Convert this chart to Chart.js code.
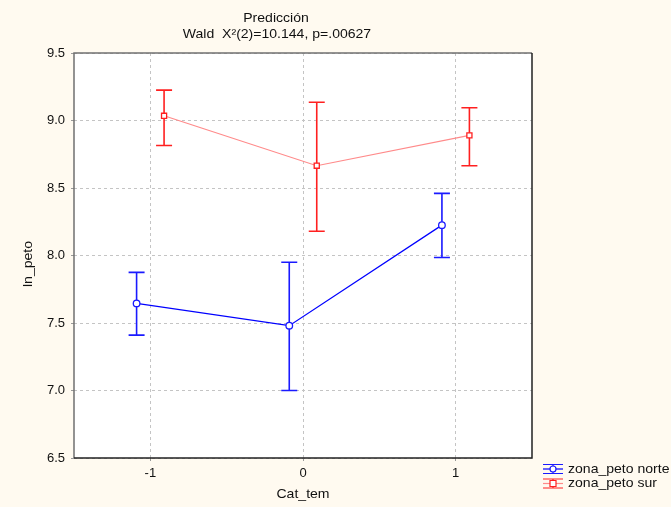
<!DOCTYPE html>
<html>
<head>
<meta charset="utf-8">
<script src="https://cdn.jsdelivr.net/npm/chart.js@4/dist/chart.umd.min.js"></script>
<style>
  html, body { margin: 0; padding: 0; background: #fffaf0; }
  #wrap { width: 671px; height: 507px; }
</style>
</head>
<body>
<div id="wrap"><canvas id="c" width="671" height="507"></canvas></div>
<script>
// Cat_tem levels and the predicted ln_peto by zone with confidence limits
const categories = [-1, 0, 1];
const offsets = { norte: -0.09, sur: 0.09 };

const norteMean  = [7.645, 7.48, 8.225];
const norteLower = [7.41, 7.00, 7.985];
const norteUpper = [7.875, 7.95, 8.46];

const surMean  = [9.035, 8.665, 8.89];
const surLower = [8.815, 8.18, 8.665];
const surUpper = [9.225, 9.135, 9.095];

const yTicks = [6.5, 7.0, 7.5, 8.0, 8.5, 9.0, 9.5];
const seriesNames = ['zona_peto norte', 'zona_peto sur'];
const titleLines = ['Predicción', 'Wald  X\u00B2(2)=10.144, p=.00627'];
const xTitle = 'Cat_tem';
const yTitle = 'ln_peto';

const FONT = '"Liberation Sans", Arial, sans-serif';
const TEXT = '#111111';

function pts(mean, off) {
  return categories.map((c, i) => ({ x: c + off, y: mean[i] }));
}

// slightly widened text, like the rest of the lettering
function wideText(ctx, str, x, y, align, rot) {
  ctx.save();
  ctx.translate(x, y);
  if (rot) ctx.rotate(rot);
  ctx.scale(1.08, 1);
  ctx.textAlign = align;
  ctx.textBaseline = 'middle';
  ctx.fillText(str, 0, 0);
  ctx.restore();
}

const series = [
  { name: seriesNames[0], mean: norteMean, lo: norteLower, hi: norteUpper, off: offsets.norte,
    line: '#0000ff', bar: '#1a1aff', style: 'circle' },
  { name: seriesNames[1], mean: surMean, lo: surLower, hi: surUpper, off: offsets.sur,
    line: '#ff8a8a', bar: '#ff2020', style: 'rect' }
];

const framePlugin = {
  id: 'frame',
  beforeDraw(chart) {
    const { ctx, chartArea: a } = chart;
    ctx.save();
    ctx.fillStyle = '#fffaf0';
    ctx.fillRect(0, 0, chart.width, chart.height);
    ctx.fillStyle = '#ffffff';
    ctx.fillRect(a.left, a.top, a.right - a.left, a.bottom - a.top);
    ctx.restore();
  },
  beforeDatasetsDraw(chart) {
    // confidence-limit whiskers
    const { ctx, scales } = chart;
    ctx.save();
    series.forEach(s => {
      ctx.strokeStyle = s.bar;
      ctx.lineWidth = 1.6;
      categories.forEach((c, i) => {
        const x = scales.x.getPixelForValue(c + s.off);
        const y1 = scales.y.getPixelForValue(s.hi[i]);
        const y2 = scales.y.getPixelForValue(s.lo[i]);
        ctx.beginPath();
        ctx.moveTo(x, y1); ctx.lineTo(x, y2);
        ctx.moveTo(x - 8, y1); ctx.lineTo(x + 8, y1);
        ctx.moveTo(x - 8, y2); ctx.lineTo(x + 8, y2);
        ctx.stroke();
      });
    });
    ctx.restore();
  },
  afterDraw(chart) {
    const { ctx, chartArea: a } = chart;
    ctx.save();
    // plot frame
    ctx.lineWidth = 1.5;
    ctx.strokeStyle = '#707070';
    ctx.beginPath();
    ctx.moveTo(a.left, a.bottom); ctx.lineTo(a.left, a.top); ctx.lineTo(a.right, a.top);
    ctx.stroke();
    ctx.strokeStyle = '#222222';
    ctx.beginPath();
    ctx.moveTo(a.right, a.top); ctx.lineTo(a.right, a.bottom); ctx.lineTo(a.left, a.bottom);
    ctx.stroke();

    // titles
    ctx.fillStyle = TEXT;
    ctx.font = '13px ' + FONT;
    wideText(ctx, titleLines[0], 276, 18, 'center');
    wideText(ctx, titleLines[1], 277, 34, 'center');

    // axis titles
    wideText(ctx, xTitle, 303, 494, 'center');
    wideText(ctx, yTitle, 28, 264, 'center', -Math.PI / 2);

    // legend
    series.forEach((s, k) => {
      const cy = 469 + k * 14.5;
      const x0 = 543, x1 = 563, xm = 553;
      ctx.strokeStyle = s.bar;
      ctx.lineWidth = 1.2;
      ctx.beginPath();
      ctx.moveTo(x0, cy - 4.5); ctx.lineTo(x1, cy - 4.5);
      ctx.moveTo(x0, cy + 4.5); ctx.lineTo(x1, cy + 4.5);
      ctx.moveTo(xm, cy - 4.5); ctx.lineTo(xm, cy + 4.5);
      ctx.stroke();
      ctx.strokeStyle = s.line;
      ctx.beginPath();
      ctx.moveTo(x0, cy); ctx.lineTo(x1, cy);
      ctx.stroke();
      ctx.fillStyle = '#ffffff';
      ctx.strokeStyle = s.bar;
      ctx.lineWidth = 1.2;
      ctx.beginPath();
      if (s.style === 'circle') ctx.arc(xm, cy, 3, 0, Math.PI * 2);
      else ctx.rect(xm - 3, cy - 3, 6, 6);
      ctx.fill(); ctx.stroke();
      ctx.fillStyle = TEXT;
      ctx.font = '13px ' + FONT;
      wideText(ctx, s.name, 568, cy, 'left');
    });
    ctx.restore();
  }
};

new Chart(document.getElementById('c'), {
  type: 'scatter',
  data: {
    datasets: series.map(s => ({
      label: s.name,
      data: pts(s.mean, s.off),
      showLine: true,
      borderColor: s.line,
      borderWidth: 1.2,
      pointStyle: s.style,
      pointRadius: s.style === 'circle' ? 3.3 : 3.6,
      pointBorderColor: s.bar,
      pointBorderWidth: 1.3,
      pointBackgroundColor: '#ffffff',
      tension: 0
    }))
  },
  options: {
    responsive: false,
    animation: false,
    events: [],
    layout: { padding: { left: 0, right: 139, top: 53, bottom: 0 } },
    plugins: { legend: { display: false }, tooltip: { enabled: false }, title: { display: false } },
    scales: {
      x: {
        type: 'linear',
        min: -1.5, max: 1.5,
        afterBuildTicks(scale) { scale.ticks = categories.map(v => ({ value: v })); },
        afterFit(scale) { scale.height = 49; },
        grid: { color: '#c4c4c4', lineWidth: 1, drawTicks: true, tickLength: 3, tickColor: '#999999' },
        border: { display: false, dash: [3, 3] },
        ticks: { color: TEXT, font: { family: FONT, size: 13 }, padding: 5, callback: v => String(v) },
        title: { display: false }
      },
      y: {
        min: 6.5, max: 9.5,
        afterBuildTicks(scale) { scale.ticks = yTicks.map(v => ({ value: v })); },
        afterFit(scale) { scale.width = 74; },
        grid: { color: '#c4c4c4', lineWidth: 1, drawTicks: true, tickLength: 3, tickColor: '#999999' },
        border: { display: false, dash: [3, 3] },
        ticks: { color: TEXT, font: { family: FONT, size: 13 }, padding: 6, callback: v => Number(v).toFixed(1) },
        title: { display: false }
      }
    }
  },
  plugins: [framePlugin]
});
</script>
</body>
</html>
